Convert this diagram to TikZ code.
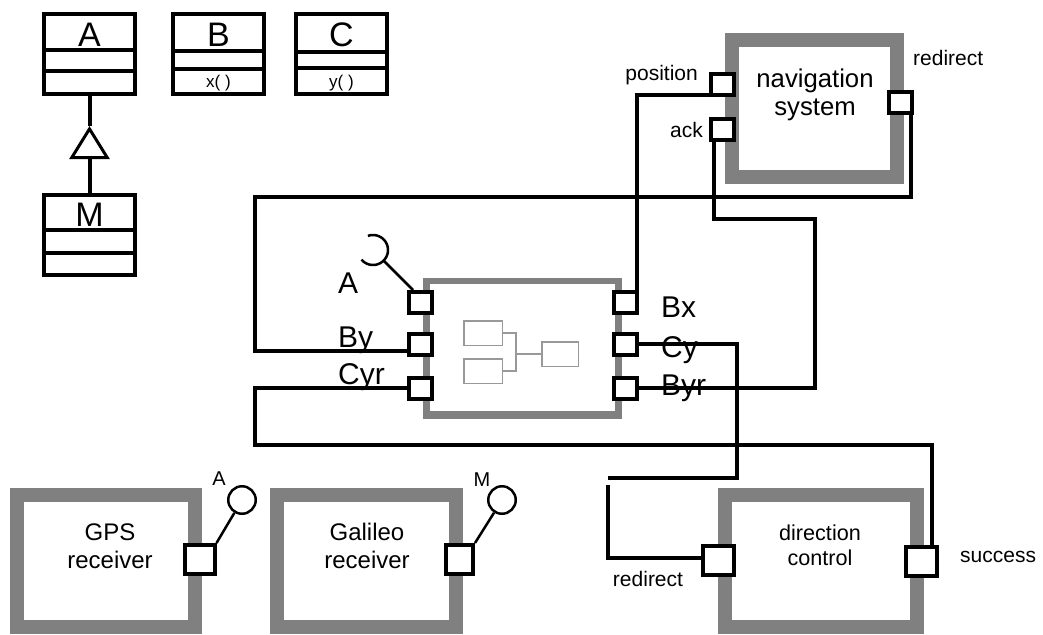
\documentclass[tikz,border=0pt]{standalone}
\usepackage{fontspec}
\setmainfont{Liberation Sans}
\usetikzlibrary{arrows.meta,backgrounds}

\begin{document}
\begin{tikzpicture}[x=1pt,y=-1pt,
    wire/.style={line width=4pt},
    thinwire/.style={line width=2.5pt},
    port/.style={draw, line width=4pt, fill=white, inner sep=0pt,
      minimum width=23pt, minimum height=21pt},
    bigport/.style={port, minimum width=30pt, minimum height=29pt},
    comp/.style={draw=gray, line width=14pt, fill=white, inner sep=0pt},
    classbox/.style={draw, line width=4pt, inner sep=0pt,
      minimum width=91pt, minimum height=80pt},
    clsname/.style={inner sep=0pt, anchor=base, font=\fontsize{34}{36}\selectfont},
    opname/.style={inner sep=0pt, anchor=base, font=\fontsize{17}{19}\selectfont},
    portlbl/.style={inner sep=0pt, anchor=base west, font=\fontsize{30}{34}\selectfont},
    lbl/.style={inner sep=0pt, font=\fontsize{21}{25}\selectfont},
    ctext/.style={inner sep=0pt, align=center},
    mini/.style={draw=gray!80, line width=1.5pt},
    ball/.style={draw, circle, line width=2.5pt, minimum size=27.5pt, inner sep=0pt},
  ]
    \useasboundingbox (0,0) rectangle (1043,634);

    % classes
    \node[classbox] (clsA) at (89.5,54) {};
    \node[classbox] (clsB) at (218.5,54) {};
    \node[classbox] (clsC) at (341.5,54) {};
    \node[classbox] (clsM) at (89.5,235) {};
    \foreach \c/\ya/\yb in {clsA/50/71, clsB/51/69, clsC/52/68, clsM/230/253} {
        \draw[line width=4pt] (\c.west |- 0,\ya) -- (\c.east |- 0,\ya);
        \draw[line width=4pt] (\c.west |- 0,\yb) -- (\c.east |- 0,\yb);
    }
    \node[clsname] (nameA) at (89.5,46) {A};
    \node[clsname] (nameB) at (218.5,46) {B};
    \node[clsname] (nameC) at (341.5,46) {C};
    \node[clsname] (nameM) at (89.5,226) {M};
    \node[opname] (opX) at (218.5,87) {x( )};
    \node[opname] (opY) at (341.5,87) {y( )};

    % generalization M -> A
    \coordinate (genTip) at (89.5,126);
    \draw[line width=4pt] (clsA.south) -- (genTip);
    \draw[line width=4pt, -{Triangle[open, length=33pt, width=40pt, line width=3pt]}]
        (clsM.north) -- (genTip);

    % components
    \node[comp, minimum width=165pt, minimum height=137pt] (nav) at (814.5,108.5) {};
    \node[comp, minimum width=192pt, minimum height=132pt] (dir) at (821,561) {};
    \node[comp, minimum width=178pt, minimum height=132pt] (gps) at (106,561) {};
    \node[comp, minimum width=179pt, minimum height=132pt] (gal) at (366.5,561) {};

    \node[ctext, font=\fontsize{25.7}{28}\selectfont] (navTxt) at (815,95) {navigation\\system};
    \node[ctext, font=\fontsize{21.6}{25}\selectfont] (dirTxt) at (820,545) {direction\\control};
    \node[ctext, font=\fontsize{24}{28}\selectfont] (gpsTxt) at (110,546) {GPS\\receiver};
    \node[ctext, font=\fontsize{24}{28}\selectfont] (galTxt) at (367,546) {Galileo\\receiver};

    % composite part
    \node[draw=gray, line width=6pt, fill=white, inner sep=0pt,
          minimum width=193pt, minimum height=135pt] (core) at (522.5,348.5) {};
    \draw[gray, line width=1.5pt]
        ([shift={(6,5)}]core.north west) rectangle ([shift={(-6,-7)}]core.south east);
    \node[mini, minimum width=38.5pt, minimum height=24.5pt, inner sep=0pt] (mini1) at (483,333) {};
    \node[mini, minimum width=38.5pt, minimum height=24.5pt, inner sep=0pt] (mini2) at (483,371) {};
    \node[mini, minimum width=36.5pt, minimum height=24.5pt, inner sep=0pt] (mini3) at (560,354) {};
    \draw[mini] (mini1.east) -- ++(13,0) coordinate (fork) |- (mini2.east);
    \draw[mini] (fork |- mini3.west) -- (mini3.west);

    % bend points of the wires
    \coordinate (ackBend) at (815,219);
    \coordinate (loopTL) at (255,197);
    \coordinate (loopBL) at (255,445);
    \coordinate (cyBend) at (737,478);
    \coordinate (cyEnd) at (608,478);
    \coordinate (redirStart) at (608,485);
    \coordinate (sockA) at (373,250);
    \coordinate (sockTip) at (383.6,260.6);

    % ports
    \node[port] (portA) at (420.5,302.5) {};
    \node[port] (portBy) at (420.5,344) {};
    \node[port] (portCyr) at (420.5,388) {};
    \node[port] (portBx) at (625.5,302.5) {};
    \node[port] (portCy) at (625.5,344) {};
    \node[port] (portByr) at (625.5,388) {};
    \node[port] (posPort) at (722.5,84.5) {};
    \node[port] (ackPort) at (722.5,129) {};
    \node[port] (navRedir) at (900,102.5) {};
    \node[bigport, minimum width=31pt] (dirRedir) at (718.5,560.5) {};
    \node[bigport, minimum width=31pt] (succPort) at (921,561) {};
    \node[bigport] (gpsPort) at (199.5,559.5) {};
    \node[bigport, minimum width=27pt] (galPort) at (459.5,559.5) {};

    % wires, behind the ports
    \begin{scope}[on background layer]
    \draw[wire] ([yshift=2pt]posPort.south west) -| ([xshift=-2pt]portBx.north east);
    \draw[wire] ([xshift=5pt]ackPort.south west) |- (ackBend) |- (portByr.east);
    \draw[wire] ([xshift=-3pt]navRedir.south east) |- (loopTL) |- ([yshift=-7pt]portBy.west);
    \draw[wire] (portCyr.west) -| (loopBL) -| ([xshift=-7pt]succPort.north east);
    \draw[wire] (portCy.east) -| (cyBend) -- (cyEnd);
    \draw[wire] (redirStart) |- ([yshift=3pt]dirRedir.west);
    \end{scope}

    % required interface A
    \draw[thinwire] plot[domain=-140:110, smooth, samples=30, variable=\t]
        ({373+15*cos(\t)}, {250-15*sin(\t)});
    \draw[thinwire] ([xshift=6pt]portA.north west) -- (sockTip);

    % provided interfaces
    \node[ball] (provA) at (242,500) {};
    \node[ball] (provM) at (502,500) {};
    \draw[thinwire] (gpsPort.north east) -- (provA);
    \draw[thinwire] (galPort.north east) -- (provM);

    % labels
    \node[portlbl] (lblA) at (338,293) {A};
    \node[portlbl] (lblBy) at (338,347) {By};
    \node[portlbl] (lblCyr) at (338,384) {Cyr};
    \node[portlbl] (lblBx) at (661,317) {Bx};
    \node[portlbl] (lblCy) at (661,357) {Cy};
    \node[portlbl] (lblByr) at (661,395) {Byr};
    \node[lbl, anchor=base east] (posLbl) at (698,80) {position};
    \node[lbl, anchor=base east] (ackLbl) at (703,137) {ack};
    \node[lbl, anchor=base west] (navRedirLbl) at (913,66) {redirect};
    \node[lbl, anchor=base] (dirRedirLbl) at (648,586) {redirect};
    \node[lbl, anchor=base west] (succLbl) at (960,562) {success};
    \node[lbl, anchor=base, font=\fontsize{20}{24}\selectfont] (provALbl) at (219,485) {A};
    \node[lbl, anchor=base, font=\fontsize{20}{24}\selectfont] (provMLbl) at (482,486) {M};
\end{tikzpicture}
\end{document}
